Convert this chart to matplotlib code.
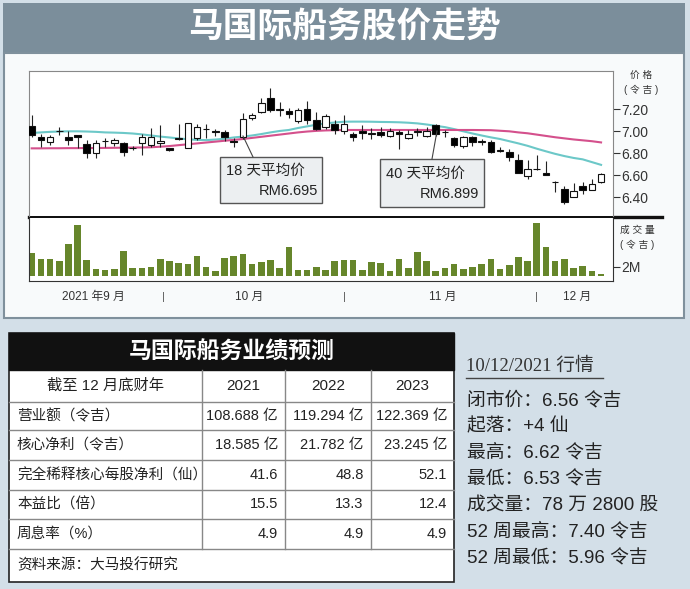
import matplotlib.pyplot as plt
from matplotlib.patches import Rectangle
from matplotlib.transforms import blended_transform_factory

plt.rcParams['font.family'] = ['Liberation Sans', 'Noto Sans CJK SC', 'DejaVu Sans']

# ---- price data (Sep - 10 Dec 2021) ----
opens = [7.05, 6.945, 6.90, 7.00, 6.95, 6.965, 6.885, 6.80, 6.91, 6.895,
         6.89, 6.845, 6.89, 6.875, 6.89, 6.845, 6.93, 6.845, 6.935, 7.02,
         7.005, 6.995, 6.915, 6.95, 7.125, 7.18, 7.30, 7.195, 7.185, 7.09,
         7.20, 7.10, 7.04, 7.07, 7.005, 6.975, 7.00, 6.98, 6.995, 6.96,
         6.99, 6.94, 6.995, 6.96, 7.06, 6.99, 6.94, 6.865, 6.95, 6.905,
         6.905, 6.825, 6.815, 6.74, 6.595, 6.655, 6.625, 6.535, 6.48, 6.40,
         6.50, 6.465, 6.54]
highs = [7.15, 6.975, 6.97, 7.04, 7.005, 6.97, 6.92, 6.92, 6.94, 6.935,
         6.905, 6.87, 6.98, 7.03, 7.06, 6.85, 7.065, 7.08, 7.07, 7.07,
         7.02, 7.01, 6.94, 7.17, 7.165, 7.30, 7.39, 7.27, 7.21, 7.21,
         7.28, 7.18, 7.16, 7.10, 7.15, 6.99, 7.06, 7.03, 7.04, 7.03,
         7.01, 7.01, 7.03, 7.04, 7.07, 7.01, 6.95, 6.96, 6.96, 6.93,
         6.92, 6.86, 6.84, 6.79, 6.74, 6.785, 6.73, 6.55, 6.50, 6.53,
         6.54, 6.57, 6.62]
lows = [6.95, 6.86, 6.88, 6.965, 6.875, 6.845, 6.755, 6.76, 6.86, 6.87,
        6.78, 6.83, 6.785, 6.86, 6.855, 6.825, 6.92, 6.845, 6.92, 6.94,
        6.96, 6.91, 6.86, 6.93, 7.10, 7.17, 7.18, 7.135, 7.12, 7.08,
        7.07, 7.01, 7.02, 6.98, 6.98, 6.91, 6.93, 6.93, 6.95, 6.95,
        6.835, 6.93, 6.96, 6.95, 6.955, 6.95, 6.855, 6.85, 6.87, 6.88,
        6.80, 6.81, 6.73, 6.62, 6.57, 6.645, 6.60, 6.45, 6.335, 6.40,
        6.43, 6.465, 6.53]
closes = [6.97, 6.92, 6.95, 7.005, 6.92, 6.945, 6.805, 6.895, 6.915, 6.925,
          6.815, 6.85, 6.95, 6.945, 6.91, 6.83, 6.935, 7.08, 7.04, 7.025,
          6.99, 6.945, 6.90, 7.11, 7.15, 7.255, 7.195, 7.20, 7.155, 7.195,
          7.10, 7.02, 7.14, 7.01, 7.065, 6.945, 6.985, 6.985, 6.965, 7.005,
          6.98, 6.98, 7.00, 7.005, 6.975, 6.995, 6.88, 6.95, 6.905, 6.91,
          6.815, 6.83, 6.77, 6.62, 6.655, 6.66, 6.60, 6.54, 6.36, 6.455,
          6.465, 6.525, 6.61]
volume_m = [4.96, 3.63, 3.63, 3.33, 6.96, 11.26, 3.56, 1.48, 1.26, 1.48,
            5.56, 1.63, 1.63, 1.85, 3.63, 3.33, 2.89, 2.59, 4.44, 1.85,
            1.04, 3.85, 4.37, 4.81, 2.52, 2.96, 3.48, 1.63, 6.37, 1.26,
            1.26, 1.85, 1.26, 3.26, 3.48, 3.48, 1.26, 2.96, 2.89, 1.04,
            3.70, 1.63, 5.19, 3.26, 1.04, 1.78, 2.52, 1.41, 1.85, 2.52,
            3.70, 1.41, 2.37, 4.07, 3.33, 11.63, 6.30, 3.26, 3.70, 1.63,
            2.15, 1.04, 0.30]
ma18 = [6.985, 6.99, 6.995, 6.998, 7.00, 7.00, 6.998, 6.995, 6.99, 6.988,
        6.985, 6.98, 6.972, 6.962, 6.952, 6.944, 6.935, 6.928, 6.922, 6.92,
        6.925, 6.932, 6.944, 6.952, 6.962, 6.975, 6.99, 7.003, 7.012, 7.03,
        7.045, 7.06, 7.072, 7.08, 7.087, 7.088, 7.088, 7.087, 7.085, 7.084,
        7.082, 7.078, 7.072, 7.062, 7.05, 7.038, 7.02, 7.00, 6.98, 6.962,
        6.945, 6.93, 6.91, 6.89, 6.868, 6.842, 6.818, 6.795, 6.775, 6.758,
        6.745, 6.72, 6.695]
ma40 = [6.845, 6.845, 6.846, 6.846, 6.847, 6.847, 6.848, 6.848, 6.849, 6.85,
        6.851, 6.852, 6.853, 6.855, 6.86, 6.866, 6.874, 6.882, 6.89, 6.898,
        6.906, 6.914, 6.922, 6.93, 6.94, 6.95, 6.96, 6.97, 6.98, 6.99,
        6.998, 7.004, 7.008, 7.01, 7.012, 7.012, 7.012, 7.012, 7.012, 7.012,
        7.012, 7.012, 7.012, 7.012, 7.012, 7.012, 7.012, 7.012, 7.012, 7.011,
        7.01, 7.005, 7.0, 6.99, 6.982, 6.97, 6.958, 6.946, 6.936, 6.926,
        6.918, 6.91, 6.899]

price_ticks = [6.40, 6.60, 6.80, 7.00, 7.20]
month_labels = ['2021 年9 月', '10 月', '11 月', '12 月']
month_pos = [6.7, 23.7, 44.8, 59.4]
month_breaks = [14.3, 34.1, 55.0]

# ---- table / quote text ----
table_title = '马国际船务业绩预测'
col_headers = ['截至 12 月底财年', '2021', '2022', '2023']
row_labels = ['营业额（令吉）', '核心净利（令吉）', '完全稀释核心每股净利（仙）',
              '本益比（倍）', '周息率（%）']
row_values = [['108.688 亿', '119.294 亿', '122.369 亿'],
              ['18.585 亿', '21.782 亿', '23.245 亿'],
              ['41.6', '48.8', '52.1'],
              ['15.5', '13.3', '12.4'],
              ['4.9', '4.9', '4.9']]
source = '资料来源：大马投行研究'
quote_date = '10/12/2021 行情'
quote_lines = ['闭市价：6.56 令吉', '起落：+4 仙', '最高：6.62 令吉', '最低：6.53 令吉',
               '成交量：78 万 2800 股', '52 周最高：7.40 令吉', '52 周最低：5.96 令吉']

W, H = 690, 589
fig = plt.figure(figsize=(6.9, 5.89), dpi=100)
fig.patch.set_facecolor('#d3dfe8')


def px_axes(x0, y0, x1, y1, **kw):
    return fig.add_axes([x0 / W, 1 - y1 / H, (x1 - x0) / W, (y1 - y0) / H], **kw)


bg = px_axes(0, 0, W, H)
bg.set_xlim(0, W)
bg.set_ylim(H, 0)
bg.axis('off')

# title bar and chart panel
bg.add_patch(Rectangle((3, 3), 682, 50, fc='#7b8e9b', ec='none'))
bg.text(345, 28, '马国际船务股价走势', color='white', fontsize=25, fontweight='bold',
        ha='center', va='center')
bg.add_patch(Rectangle((4, 53), 680, 265, fc='#f8fafb', ec='#7f909c', lw=1.5))

# ---- price axes ----
ax = px_axes(29.3, 70.7, 613, 216)
ax.set_facecolor('white')
x = list(range(len(opens)))
for i in x:
    o, c = opens[i], closes[i]
    ax.vlines(i, lows[i], highs[i], color='#222', lw=0.8, zorder=2)
    fc = 'black' if c < o else 'white'
    ax.bar(i, max(abs(c - o), 0.004), bottom=min(o, c), width=0.72,
           color=fc, edgecolor='#111', lw=0.8, zorder=3)
ax.plot(x, ma18, color='#6cc8c8', lw=1.5, zorder=1)
ax.plot(x, ma40, color='#d4508c', lw=1.5, zorder=1)
ax.set_xlim(-0.26, 63.3)
ax.set_ylim(6.23, 7.551)
ax.set_xticks([])
ax.yaxis.tick_right()
ax.set_yticks(price_ticks)
ax.set_yticklabels([f'{t:.2f}' for t in price_ticks])
ax.tick_params(axis='y', direction='out', length=5, width=0.8, pad=1,
               labelsize=10, colors='#333')
for s in ['top', 'left', 'right']:
    ax.spines[s].set_color('#888')
ax.spines['bottom'].set_visible(False)

# ---- volume axes ----
vx = px_axes(29.3, 218, 613, 281)
vx.set_facecolor('white')
vx.bar(x, volume_m, width=0.72, color='#66862b')
vx.set_xlim(-0.26, 63.3)
vx.set_ylim(-1.2, 12.8)
vx.set_xticks([])
vx.yaxis.tick_right()
vx.set_yticks([2])
vx.set_yticklabels(['2M'])
vx.tick_params(axis='y', direction='out', length=5, width=0.8, pad=1,
               labelsize=10, colors='#333')
vx.spines['top'].set_visible(False)
for s in ['left', 'right', 'bottom']:
    vx.spines[s].set_color('#333')
trans = blended_transform_factory(vx.transData, vx.transAxes)
for p, lab in zip(month_pos, month_labels):
    vx.text(p, -0.25, lab, transform=trans, ha='center', va='center',
            fontsize=8.5, color='#333')
for p in month_breaks:
    vx.text(p, -0.25, '|', transform=trans, ha='center', va='center',
            fontsize=8, color='#555')

# thick separator between price and volume
bg.plot([29, 662], [216.5, 216.5], color='#111', lw=2.4)

# axis captions
bg.text(641, 75, '价 格', fontsize=7, ha='center', va='center', color='#333')
bg.text(641, 90, '( 令 吉 )', fontsize=7, ha='center', va='center', color='#333')
bg.text(637, 230, '成 交 量', fontsize=7, ha='center', va='center', color='#333')
bg.text(637, 245, '( 令 吉 )', fontsize=7, ha='center', va='center', color='#333')

# ---- moving-average callouts ----
ov = px_axes(0, 0, W, H)
ov.set_xlim(0, W)
ov.set_ylim(H, 0)
ov.axis('off')
ov.plot([243, 253], [136, 157], color='#444', lw=0.8)
ov.add_patch(Rectangle((220, 157), 102, 46, fc='#eceff1', ec='#555', lw=1))
ov.text(226, 171, '18 天平均价', fontsize=10.5, ha='left', va='center', color='#222')
ov.text(318, 191, 'RM6.695', fontsize=10.5, ha='right', va='center', color='#222')
ov.plot([437, 432], [131, 159], color='#444', lw=0.8)
ov.add_patch(Rectangle((380, 159), 104, 48, fc='#eceff1', ec='#555', lw=1))
ov.text(386, 174, '40 天平均价', fontsize=10.5, ha='left', va='center', color='#222')
ov.text(479, 194, 'RM6.899', fontsize=10.5, ha='right', va='center', color='#222')

# ---- forecast table ----
tx0, tx1 = 8.5, 454
col_edges = [tx0, 201.7, 285, 370.7, tx1]
row_edges = [370, 401.7, 430, 460, 490, 519, 549, 582]
ov.add_patch(Rectangle((tx0, 333), tx1 - tx0, 582 - 333, fc='white', ec='#222', lw=1.2))
ov.add_patch(Rectangle((tx0, 333), tx1 - tx0, 37, fc='#111', ec='#111', lw=1))
ov.text((tx0 + tx1) / 2, 352, table_title, color='white', fontsize=16.5,
        fontweight='bold', ha='center', va='center')
for y in row_edges[1:-1]:
    ov.plot([tx0, tx1], [y, y], color='#888', lw=1)
for xe in col_edges[1:-1]:
    ov.plot([xe, xe], [row_edges[0], row_edges[-2]], color='#888', lw=1)
for j, h in enumerate(col_headers):
    ov.text((col_edges[j] + col_edges[j + 1]) / 2, (row_edges[0] + row_edges[1]) / 2,
            h, fontsize=11, ha='center', va='center', color='#222')
for r, (lab, vals) in enumerate(zip(row_labels, row_values)):
    yc = (row_edges[r + 1] + row_edges[r + 2]) / 2
    ov.text(17, yc, lab, fontsize=10.5, ha='left', va='center', color='#222')
    for j, v in enumerate(vals):
        ov.text(col_edges[j + 2] - 7, yc, v, fontsize=10.5, ha='right',
                va='center', color='#222')
ov.text(17, (row_edges[-2] + row_edges[-1]) / 2, source, fontsize=10.5,
        ha='left', va='center', color='#222')

# ---- quote panel ----
ov.text(466, 366, quote_date, fontsize=13.5, ha='left', va='center', color='#333',
        family=['Liberation Serif', 'Noto Sans CJK SC'])
ov.plot([466, 603], [378, 378], color='#444', lw=1)
for k, line in enumerate(quote_lines):
    ov.text(467, 400 + k * 26.4, line, fontsize=13.5, ha='left', va='center',
            color='#222')

fig.savefig('out.png', dpi=100)
